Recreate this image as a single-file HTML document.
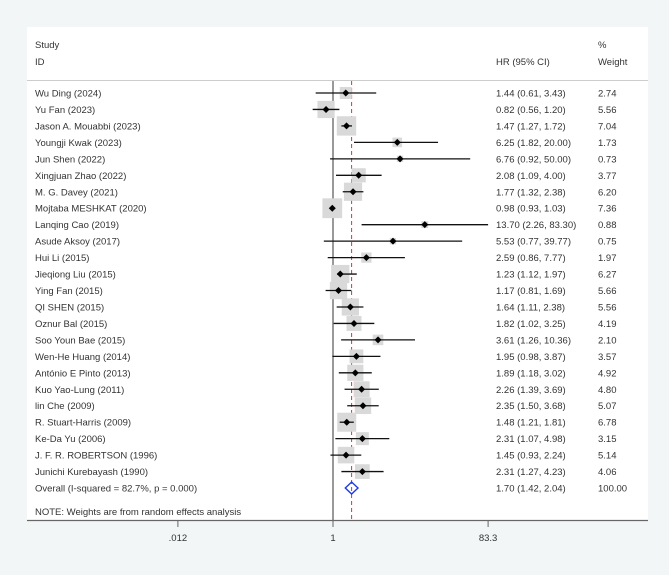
<!DOCTYPE html>
<html><head><meta charset="utf-8"><style>
body{margin:0;background:#f2f6f7;}
svg{display:block;font-family:"Liberation Sans",sans-serif;}
</style></head><body>
<svg width="669" height="575">
<rect x="27" y="27" width="621" height="493" fill="#fff"/>
<g font-size="9.5" fill="#333">
<text x="35" y="48">Study</text>
<text x="35" y="65">ID</text>
<text x="496" y="65">HR (95% CI)</text>
<text x="598" y="48">%</text>
<text x="598" y="65">Weight</text>
</g>
<line x1="27" y1="80.5" x2="648" y2="80.5" stroke="#ccc"/>
<g id="plot"></g>
<line x1="27" y1="520.5" x2="648" y2="520.5" stroke="#666" stroke-width="1.2"/>
<g id="axis" font-size="9.5" fill="#333"></g>
<text x="35" y="515" font-size="9.5" fill="#333">NOTE: Weights are from random effects analysis</text>
</svg>
<script>
const studies=["Wu Ding (2024)","Yu Fan (2023)","Jason A. Mouabbi (2023)","Youngji Kwak (2023)","Jun Shen (2022)","Xingjuan Zhao (2022)","M. G. Davey (2021)","Mojtaba MESHKAT  (2020)","Lanqing Cao (2019)","Asude Aksoy (2017)","Hui Li (2015)","Jieqiong Liu (2015)","Ying Fan (2015)","QI SHEN (2015)","Oznur Bal (2015)","Soo Youn Bae (2015)","Wen-He Huang (2014)","António E Pinto (2013)","Kuo Yao-Lung (2011)","lin Che (2009)","R. Stuart-Harris (2009)","Ke-Da Yu (2006)","J. F. R. ROBERTSON (1996)","Junichi Kurebayash (1990)"];
const hr=[1.44,0.82,1.47,6.25,6.76,2.08,1.77,0.98,13.70,5.53,2.59,1.23,1.17,1.64,1.82,3.61,1.95,1.89,2.26,2.35,1.48,2.31,1.45,2.31];
const lo=[0.61,0.56,1.27,1.82,0.92,1.09,1.32,0.93,2.26,0.77,0.86,1.12,0.81,1.11,1.02,1.26,0.98,1.18,1.39,1.50,1.21,1.07,0.93,1.27];
const hi=[3.43,1.20,1.72,20.00,50.00,4.00,2.38,1.03,83.30,39.77,7.77,1.97,1.69,2.38,3.25,10.36,3.87,3.02,3.69,3.68,1.81,4.98,2.24,4.23];
const weights=[2.74,5.56,7.04,1.73,0.73,3.77,6.20,7.36,0.88,0.75,1.97,6.27,5.66,5.56,4.19,2.10,3.57,4.92,4.80,5.07,6.78,3.15,5.14,4.06];
const overall=[1.70,1.42,2.04];
const overallLabel="Overall  (I-squared = 82.7%, p = 0.000)";
const ticks=[0.012,1,83.3];
const tickLabels=[".012","1","83.3"];
const NS="http://www.w3.org/2000/svg";
const X=v=>333+Math.log(v)*35.07;
const Y=i=>93+i*16.46;
const g=document.getElementById('plot');
function mk(t,a,p){const e=document.createElementNS(NS,t);for(const k in a)e.setAttribute(k,a[k]);(p||g).appendChild(e);return e;}
function f(v){return v.toFixed(2);}
const n=studies.length;
// null line
let e=mk('line',{x1:333,y1:81,x2:333,y2:520,stroke:'#333','stroke-width':1});


e=mk('line',{x1:X(overall[0]),y1:81,x2:X(overall[0]),y2:520,stroke:'#d33','stroke-width':1,'stroke-dasharray':'4,3'});


for(let i=0;i<n;i++){
  const y=Y(i),s=7.3*Math.sqrt(weights[i]);
  e=mk('rect',{x:X(hr[i])-s/2,y:y-s/2,width:s,height:s,fill:'#d9d9d9'});
  
  
  e=mk('line',{x1:X(lo[i]),y1:y,x2:X(Math.min(hi[i],83.3)),y2:y,stroke:'#111','stroke-width':1.3});
  
  
  e=mk('path',{d:`M${X(hr[i])-3.5},${y}L${X(hr[i])},${y-3.5}L${X(hr[i])+3.5},${y}L${X(hr[i])},${y+3.5}Z`,fill:'#000'});
  
  
  e=mk('text',{x:35,y:y+3.5,'font-size':9.5,fill:'#333'});e.textContent=studies[i];
  
  
  e=mk('text',{x:496,y:y+3.5,'font-size':9.5,fill:'#333'});e.textContent=`${f(hr[i])} (${f(lo[i])}, ${f(hi[i])})`;
  
  
  e=mk('text',{x:598,y:y+3.5,'font-size':9.5,fill:'#333'});e.textContent=f(weights[i]);
  
  
}
const yo=Y(n);
e=mk('path',{d:`M${X(overall[1])},${yo}L${X(overall[0])},${yo-6}L${X(overall[2])},${yo}L${X(overall[0])},${yo+6}Z`,fill:'none',stroke:'#1a3be0','stroke-width':1.4});


e=mk('text',{x:35,y:yo+3.5,'font-size':9.5,fill:'#333'});e.textContent=overallLabel;


e=mk('text',{x:496,y:yo+3.5,'font-size':9.5,fill:'#333'});e.textContent=`${f(overall[0])} (${f(overall[1])}, ${f(overall[2])})`;


e=mk('text',{x:598,y:yo+3.5,'font-size':9.5,fill:'#333'});e.textContent="100.00";


const ax=document.getElementById('axis');
ticks.forEach((t,i)=>{
  let l=mk('line',{x1:X(t),y1:520,x2:X(t),y2:527,stroke:'#666'},ax);
  
  
  let tx=mk('text',{x:X(t),y:541,'text-anchor':'middle'},ax);tx.textContent=tickLabels[i];
  
  
});
</script>
</body></html>
